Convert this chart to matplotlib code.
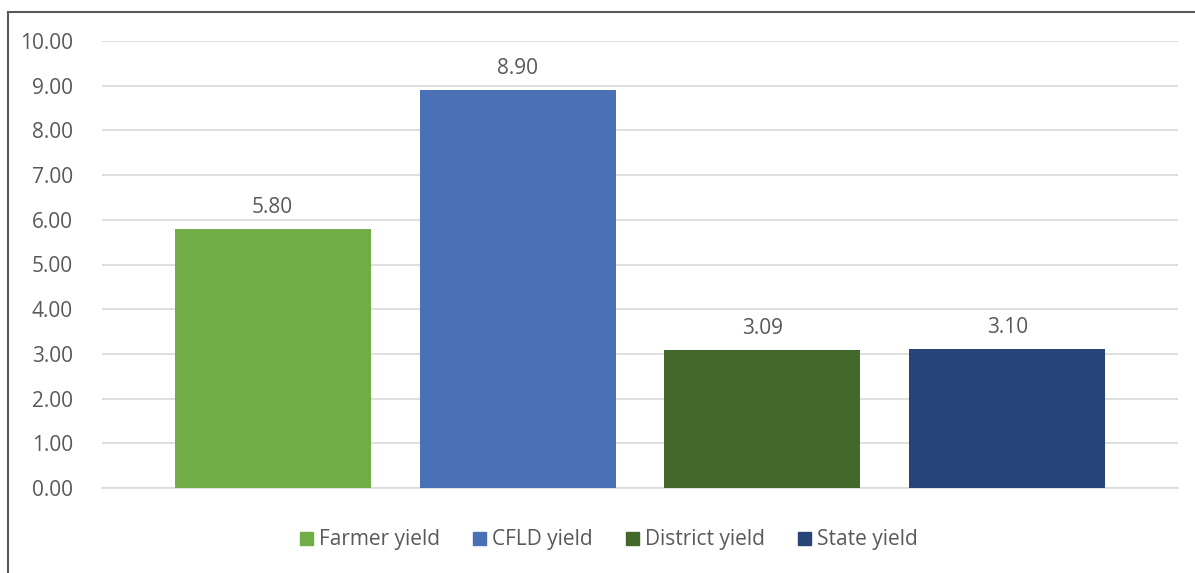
import matplotlib.pyplot as plt
from matplotlib.lines import Line2D
from matplotlib.patches import Patch

# yield data
categories = ["Farmer yield", "CFLD yield", "District yield", "State yield"]
yields = [5.80, 8.90, 3.09, 3.10]
colors = ["#70AD47", "#4A71B6", "#43682B", "#264478"]
yticks = [0, 1, 2, 3, 4, 5, 6, 7, 8, 9, 10]

plt.rcParams['font.family'] = ['Open Sans', 'DejaVu Sans']
txt = "#595959"

fig = plt.figure(figsize=(11.95, 5.73), dpi=100)
ax = fig.add_axes([102/1195, 85/573, 1076/1195, 447/573])

x = range(len(categories))
ax.bar(x, yields, width=0.8, color=colors, zorder=3)
for xi, v in zip(x, yields):
    ax.text(xi, v + 0.25, f"{v:.2f}", ha="center", va="bottom", fontsize=15, color=txt)

ax.set_xlim(-0.696, 3.696)
ax.set_ylim(0, 10)
ax.set_yticks(yticks)
ax.set_yticklabels([f"{t:.2f}" for t in yticks], fontsize=15, color=txt)
ax.set_xticks([])
ax.grid(axis="y", color="#d9d9d9", linewidth=1.2, zorder=0)
ax.tick_params(axis="y", length=0, pad=21)
for s in ["top", "right", "left"]:
    ax.spines[s].set_visible(False)
ax.spines["bottom"].set_color("#d9d9d9")
ax.spines["bottom"].set_linewidth(1.2)

handles = [Patch(color=c, label=l) for c, l in zip(colors, categories)]
fig.legend(handles=handles, loc="center", bbox_to_anchor=(609/1195, 1 - 540/573),
           ncol=4, frameon=False, fontsize=15, labelcolor=txt,
           handlelength=0.6, handleheight=0.6, handletextpad=0.3, columnspacing=1.6)

# chart border (top and left edges visible)
fig.add_artist(Line2D([8/1195, 1], [1 - 12/573, 1 - 12/573], color="#595959", linewidth=1.5))
fig.add_artist(Line2D([8/1195, 8/1195], [0, 1 - 12/573], color="#595959", linewidth=1.5))

fig.savefig("out.png", dpi=100)
